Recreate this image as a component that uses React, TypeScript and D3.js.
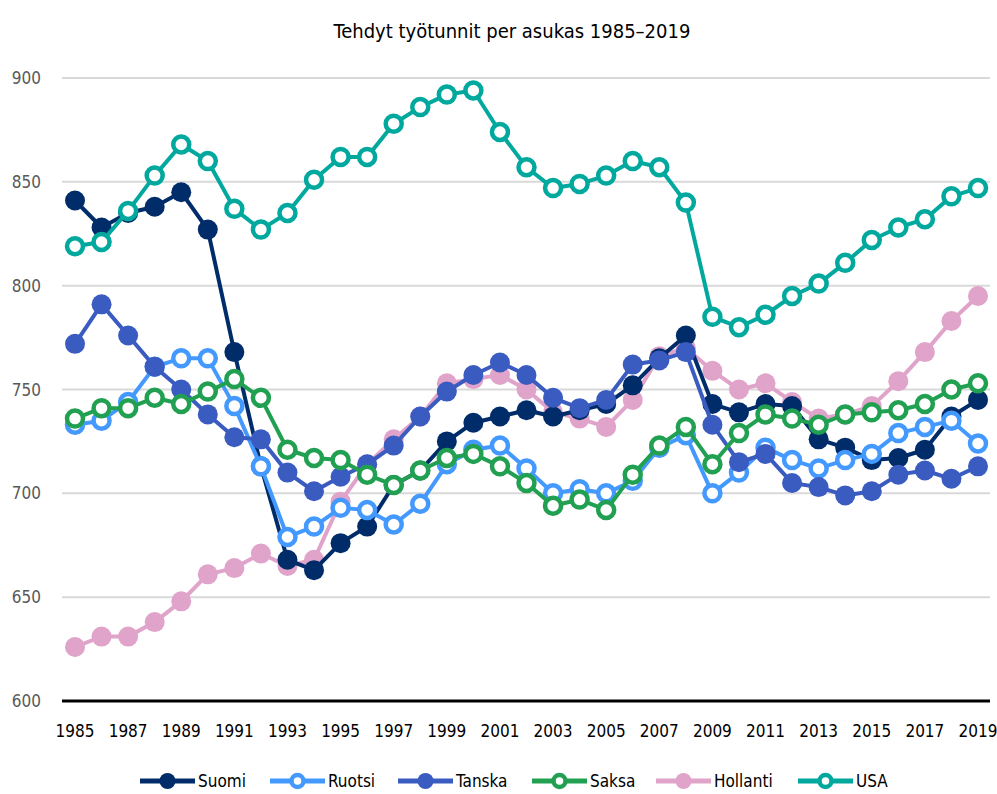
import * as d3 from "d3";
import { useEffect } from "react";

const years = d3.range(1985, 2020);
const yTicks = [600, 650, 700, 750, 800, 850, 900];
const xTickYears = years.filter((y) => (y - 1985) % 2 === 0);

const suomi = [841, 828, 835, 838, 845, 827, 768, 713, 668, 663, 676, 684, 704, 711, 725, 734, 737, 740, 737, 740, 743, 752, 765, 776, 743, 739, 743, 742, 726, 722, 716, 717, 721, 737, 745];
const ruotsi = [733, 735, 744, 761, 765, 765, 742, 713, 679, 684, 693, 692, 685, 695, 714, 721, 723, 712, 700, 702, 700, 706, 722, 728, 700, 710, 722, 716, 712, 716, 719, 729, 732, 735, 724];
const tanska = [772, 791, 776, 761, 750, 738, 727, 726, 710, 701, 708, 714, 723, 737, 749, 757, 763, 757, 746, 741, 745, 762, 764, 768, 733, 715, 719, 705, 703, 699, 701, 709, 711, 707, 713];
const saksa = [736, 741, 741, 746, 743, 749, 755, 746, 721, 717, 716, 709, 704, 711, 717, 719, 713, 705, 694, 697, 692, 709, 723, 732, 714, 729, 738, 736, 733, 738, 739, 740, 743, 750, 753];
const hollanti = [626, 631, 631, 638, 648, 661, 664, 671, 665, 668, 696, 714, 726, 737, 753, 755, 757, 750, 739, 736, 732, 745, 766, 770, 759, 750, 753, 744, 736, 738, 742, 754, 768, 783, 795];
const usa = [819, 821, 836, 853, 868, 860, 837, 827, 835, 851, 862, 862, 878, 886, 892, 894, 874, 857, 847, 849, 853, 860, 857, 840, 785, 780, 786, 795, 801, 811, 822, 828, 832, 843, 847];

const seriesNames = ["Suomi", "Ruotsi", "Tanska", "Saksa", "Hollanti", "USA"];
const seriesColors = ["#002d6a", "#4499ff", "#3a5bc0", "#22a052", "#e0a3ca", "#00a89d"];
const seriesOpen = [false, true, false, true, false, true];
const seriesValues = [suomi, ruotsi, tanska, saksa, hollanti, usa];
// piirtojärjestys: Hollanti alimpana
const drawOrder = [4, 0, 1, 2, 3, 5];

const font = "'Liberation Sans Narrow', 'DejaVu Sans Condensed', 'Roboto', sans-serif";

const Marker = ({ cx, cy, color, open, r }) =>
  open ? (
    <circle cx={cx} cy={cy} r={r - 2} fill="#fff" stroke={color} strokeWidth={4.5} />
  ) : (
    <circle cx={cx} cy={cy} r={r} fill={color} />
  );

export default function App() {
  useEffect(() => {
    document.body.style.margin = "0";
  }, []);

  const width = 997;
  const height = 794;

  const x = d3.scaleLinear().domain([1985, 2019]).range([75, 978]);
  const y = d3.scaleLinear().domain([600, 900]).range([701, 78]);
  const line = d3
    .line<number>()
    .x((_, i) => x(years[i]))
    .y((d) => y(d));

  const legendX = [140, 270, 398, 532, 656, 798];

  return (
    <svg width={width} height={height} style={{ display: "block", fontFamily: font }}>
      <rect width={width} height={height} fill="#fff" />
      <text x={512} y={38} textAnchor="middle" fontSize={20} fill="#000">
        Tehdyt työtunnit per asukas 1985–2019
      </text>

      {yTicks.map((t) => (
        <g key={t}>
          {t > 600 && <line x1={62} x2={990} y1={y(t)} y2={y(t)} stroke="#d9d9d9" strokeWidth={2} />}
          <text x={41} y={y(t) + 6} textAnchor="end" fontSize={17} fill="#595959">
            {t}
          </text>
        </g>
      ))}
      <line x1={62} x2={990} y1={y(600)} y2={y(600)} stroke="#000" strokeWidth={3} />

      {xTickYears.map((yr) => (
        <text key={yr} x={x(yr)} y={737} textAnchor="middle" fontSize={17} fill="#000">
          {yr}
        </text>
      ))}

      {drawOrder.map((si) => (
        <g key={seriesNames[si]}>
          <path d={line(seriesValues[si]) || ""} fill="none" stroke={seriesColors[si]} strokeWidth={4} strokeLinejoin="round" />
          {seriesValues[si].map((v, i) => (
            <Marker key={i} cx={x(years[i])} cy={y(v)} color={seriesColors[si]} open={seriesOpen[si]} r={10} />
          ))}
        </g>
      ))}

      {seriesNames.map((name, si) => (
        <g key={name} transform={`translate(${legendX[si]},781)`}>
          <line x1={0} x2={55} y1={0} y2={0} stroke={seriesColors[si]} strokeWidth={5} />
          <Marker cx={27.5} cy={0} color={seriesColors[si]} open={seriesOpen[si]} r={8} />
          <text x={58} y={6} fontSize={17} fill="#000">
            {name}
          </text>
        </g>
      ))}
    </svg>
  );
}
